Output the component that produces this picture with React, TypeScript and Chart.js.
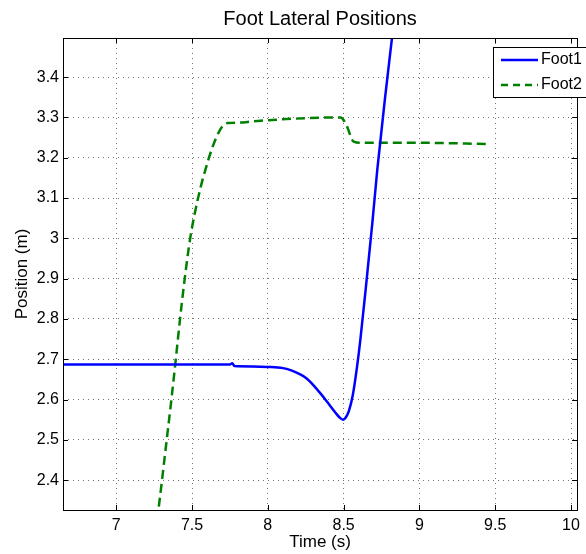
import React, { useEffect, useRef } from "react";
import { Chart, registerables } from "chart.js";

Chart.register(...registerables);

// ---- Data ----
const foot1Time = [6.6, 7.0, 7.5, 7.75, 7.765, 7.78, 7.9, 8.0, 8.1, 8.15, 8.2, 8.25, 8.3, 8.35, 8.4, 8.445, 8.475, 8.497, 8.515, 8.535, 8.56, 8.588, 8.61, 8.65, 8.69, 8.722, 8.772, 8.82, 8.85];
const foot1Pos = [2.687, 2.687, 2.687, 2.687, 2.69, 2.683, 2.682, 2.681, 2.678, 2.673, 2.665, 2.654, 2.636, 2.614, 2.59, 2.568, 2.555, 2.55, 2.556, 2.572, 2.61, 2.68, 2.747, 2.89, 3.04, 3.17, 3.344, 3.5, 3.6];

const foot2Time = [7.27, 7.302, 7.333, 7.364, 7.393, 7.421, 7.452, 7.488, 7.54, 7.612, 7.66, 7.7, 7.735, 7.8, 7.9, 8.0, 8.25, 8.48, 8.515, 8.566, 8.62, 9.0, 9.44];
const foot2Pos = [2.3, 2.4, 2.5, 2.6, 2.7, 2.8, 2.9, 3.0, 3.1, 3.2, 3.25, 3.278, 3.286, 3.287, 3.29, 3.293, 3.298, 3.3, 3.284, 3.24, 3.237, 3.237, 3.234];

const xTicks = [7, 7.5, 8, 8.5, 9, 9.5, 10];
const xTickLabels = ["7", "7.5", "8", "8.5", "9", "9.5", "10"];
const yTicks = [2.4, 2.5, 2.6, 2.7, 2.8, 2.9, 3.0, 3.1, 3.2, 3.3, 3.4];
const yTickLabels = ["2.4", "2.5", "2.6", "2.7", "2.8", "2.9", "3", "3.1", "3.2", "3.3", "3.4"];

const seriesNames = ["Foot1", "Foot2"];
const titleText = "Foot Lateral Positions";
const xTitle = "Time (s)";
const yTitle = "Position (m)";

const X_MIN = 6.649;
const X_MAX = 10.04;
const Y_MIN = 2.326;
const Y_MAX = 3.497;

const FONT = "'Liberation Sans', Arial, Helvetica, sans-serif";
const BLUE = "#0000ff";
const GREEN = "#008000";

const matlabPlugin = {
  id: "matlabDecor",
  afterDraw(chart: any) {
    const ctx = chart.ctx as CanvasRenderingContext2D;
    const { left, right, top, bottom } = chart.chartArea;
    const xs = chart.scales.x;
    const ys = chart.scales.y;
    ctx.save();
    // frame
    ctx.strokeStyle = "#000";
    ctx.lineWidth = 1;
    ctx.setLineDash([]);
    ctx.strokeRect(Math.round(left) + 0.5, Math.round(top) + 0.5, Math.round(right - left), Math.round(bottom - top));
    // inward ticks
    ctx.beginPath();
    xTicks.forEach((v) => {
      const px = Math.round(xs.getPixelForValue(v)) + 0.5;
      ctx.moveTo(px, bottom);
      ctx.lineTo(px, bottom - 5);
      ctx.moveTo(px, top);
      ctx.lineTo(px, top + 5);
    });
    yTicks.forEach((v) => {
      const py = Math.round(ys.getPixelForValue(v)) + 0.5;
      ctx.moveTo(left, py);
      ctx.lineTo(left + 5, py);
      ctx.moveTo(right, py);
      ctx.lineTo(right - 5, py);
    });
    ctx.stroke();

    // title
    ctx.fillStyle = "#000";
    ctx.font = `20px ${FONT}`;
    ctx.textAlign = "center";
    ctx.textBaseline = "middle";
    ctx.fillText(titleText, (left + right) / 2, 19);
    // axis titles
    ctx.font = `17px ${FONT}`;
    ctx.fillText(xTitle, (left + right) / 2, 542);
    ctx.save();
    ctx.translate(22, (top + bottom) / 2);
    ctx.rotate(-Math.PI / 2);
    ctx.fillText(yTitle, 0, 0);
    ctx.restore();

    // legend
    const lx = 493.5;
    const ly = 47.5;
    ctx.fillStyle = "#fff";
    ctx.fillRect(lx, ly, 120, 50);
    ctx.strokeStyle = "#000";
    ctx.lineWidth = 1;
    ctx.strokeRect(lx, ly, 120, 50);
    const rows = [
      { y: 60, color: BLUE, dash: [] as number[] },
      { y: 85, color: GREEN, dash: [7, 5] },
    ];
    rows.forEach((r, i) => {
      ctx.strokeStyle = r.color;
      ctx.lineWidth = 2.5;
      ctx.setLineDash(r.dash);
      ctx.beginPath();
      ctx.moveTo(501, r.y);
      ctx.lineTo(538, r.y);
      ctx.stroke();
      ctx.setLineDash([]);
      ctx.fillStyle = "#000";
      ctx.font = `16px ${FONT}`;
      ctx.textAlign = "left";
      ctx.textBaseline = "middle";
      ctx.fillText(seriesNames[i], 541, r.y);
    });
    ctx.restore();
  },
};

export default function App() {
  const canvasRef = useRef<HTMLCanvasElement | null>(null);

  useEffect(() => {
    if (!canvasRef.current) return;
    const gridCommon = {
      color: "rgba(0,0,0,0.55)",
      lineWidth: 1,
      drawTicks: false,
      borderDash: [1, 4],
    };
    const chart = new Chart(canvasRef.current, {
      type: "line",
      data: {
        datasets: [
          {
            label: seriesNames[0],
            data: foot1Time.map((t, i) => ({ x: t, y: foot1Pos[i] })),
            borderColor: BLUE,
            backgroundColor: BLUE,
            borderWidth: 2.5,
            pointRadius: 0,
            cubicInterpolationMode: "monotone",
            fill: false,
          },
          {
            label: seriesNames[1],
            data: foot2Time.map((t, i) => ({ x: t, y: foot2Pos[i] })),
            borderColor: GREEN,
            backgroundColor: GREEN,
            borderWidth: 2.5,
            borderDash: [9, 5],
            pointRadius: 0,
            cubicInterpolationMode: "monotone",
            fill: false,
          },
        ],
      },
      options: {
        animation: false,
        responsive: false,
        devicePixelRatio: 1,
        layout: { padding: { top: 38, right: 7, left: 0, bottom: 0 } },
        plugins: {
          legend: { display: false },
          title: { display: false },
          tooltip: { enabled: false },
        },
        scales: {
          x: {
            type: "linear",
            min: X_MIN,
            max: X_MAX,
            afterBuildTicks: (s: any) => {
              s.ticks = xTicks.map((v) => ({ value: v }));
            },
            afterFit: (s: any) => {
              s.height = 44;
            },
            ticks: {
              autoSkip: false,
              maxRotation: 0,
              padding: 6,
              color: "#000",
              font: { family: FONT, size: 16 },
              callback: (v: any) => {
                const i = xTicks.findIndex((t) => Math.abs(t - v) < 1e-6);
                return i >= 0 ? xTickLabels[i] : "";
              },
            },
            grid: gridCommon,
            border: { display: false, dash: [1, 4] },
          },
          y: {
            type: "linear",
            min: Y_MIN,
            max: Y_MAX,
            afterBuildTicks: (s: any) => {
              s.ticks = yTicks.map((v) => ({ value: v }));
            },
            afterFit: (s: any) => {
              s.width = 63;
            },
            ticks: {
              autoSkip: false,
              padding: 4,
              color: "#000",
              font: { family: FONT, size: 16 },
              callback: (v: any) => {
                const i = yTicks.findIndex((t) => Math.abs(t - v) < 1e-6);
                return i >= 0 ? yTickLabels[i] : "";
              },
            },
            grid: gridCommon,
            border: { display: false, dash: [1, 4] },
          },
        },
      } as any,
      plugins: [matlabPlugin],
    });
    return () => chart.destroy();
  }, []);

  return (
    <div style={{ position: "absolute", left: 0, top: 0, width: 586, height: 554, background: "#fff" }}>
      <canvas ref={canvasRef} width={586} height={554} style={{ width: 586, height: 554 }} />
    </div>
  );
}
